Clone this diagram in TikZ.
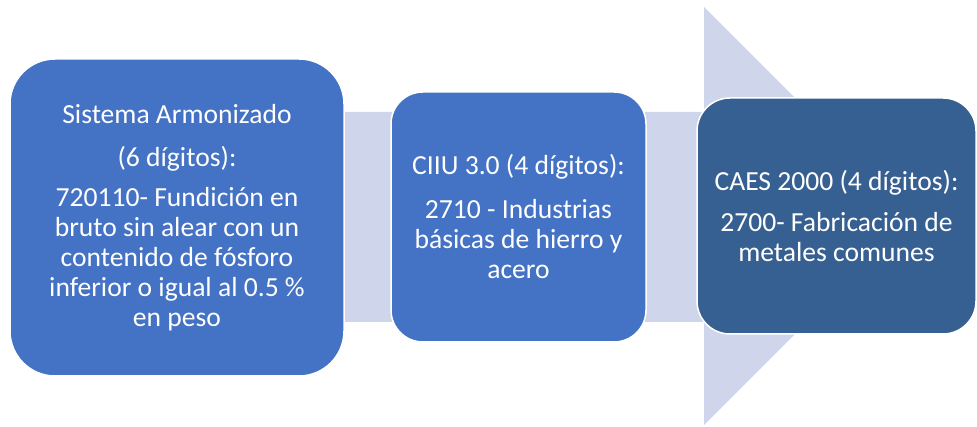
\documentclass[tikz,border=0pt]{standalone}
\usepackage{fontspec}
\setmainfont{Carlito}
\usetikzlibrary{positioning}

\definecolor{bandlila}{HTML}{CFD5EA}
\definecolor{cajazul}{HTML}{4472C4}
\definecolor{cajoscura}{HTML}{376092}

\tikzset{
  caja/.style={rectangle, draw=white, line width=1.5pt, text=white,
    align=center, inner sep=0pt,
    font=\fontsize{27.6}{30}\selectfont},
}

\begin{document}
\begin{tikzpicture}[x=1pt, y=1pt]
                %fix the page to the size of the picture
                \useasboundingbox (0,0) rectangle (977,427);
                %the big arrow behind the boxes
                \fill[bandlila] (60,105) -- (60,315) -- (704,315) -- (704,420)
                -- (913,211) -- (704,2) -- (704,105) -- cycle;
                
                %the three boxes
                \node[caja, fill=cajazul, rounded corners=45pt,
                  minimum width=334pt, minimum height=317pt] (sa) at (177,209.5)
                  {Sistema Armonizado\\[13pt]
                   (6 dígitos):\\[10pt]
                   720110- Fundición en\\
                   bruto sin alear con un\\
                   contenido de fósforo\\
                   inferior o igual al 0.5 \%\\
                   en peso};
                \node[caja, fill=cajazul, rounded corners=32pt,
                  minimum width=255pt, minimum height=250pt] (ciiu) at (518.5,210)
                  {CIIU 3.0 (4 dígitos):\\[14pt]
                   2710 - Industrias\\
                   básicas de hierro y\\
                   acero};
                \node[caja, fill=cajoscura, rounded corners=33pt,
                  minimum width=279pt, minimum height=236pt] (caes) at (836.5,211)
                  {CAES 2000 (4 dígitos):\\[11pt]
                   2700- Fabricación de\\
                   metales comunes};
            \end{tikzpicture}
\end{document}
